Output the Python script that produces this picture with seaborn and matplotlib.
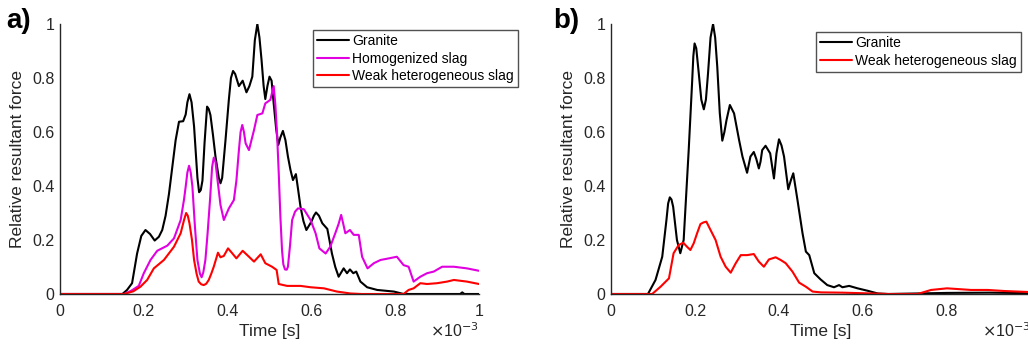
import numpy as np
import pandas as pd
import matplotlib
matplotlib.use("Agg")
import matplotlib.pyplot as plt
from matplotlib.ticker import FuncFormatter, FixedLocator
from matplotlib.lines import Line2D
import seaborn as sns

# ---------------- data (time in units of 1e-3 s) ----------------
a_granite_t = [0.0, 0.149, 0.160, 0.172, 0.184, 0.194, 0.204, 0.215, 0.226, 0.236, 0.244, 0.252, 0.260, 0.268,
               0.276, 0.284, 0.294, 0.300, 0.304, 0.309, 0.314, 0.320, 0.328, 0.332, 0.336, 0.340, 0.345,
               0.351, 0.355, 0.359, 0.365, 0.371, 0.379, 0.383, 0.387, 0.395, 0.403, 0.408, 0.413, 0.418,
               0.427, 0.436, 0.445, 0.452, 0.459, 0.465, 0.471, 0.476, 0.481, 0.486, 0.490, 0.495, 0.500,
               0.505, 0.510, 0.516, 0.521, 0.526, 0.532, 0.538, 0.544, 0.550, 0.556, 0.563, 0.568, 0.574,
               0.581, 0.588, 0.600, 0.606, 0.611, 0.618, 0.626, 0.638, 0.643, 0.649, 0.657, 0.665, 0.677,
               0.685, 0.692, 0.700, 0.707, 0.717, 0.733, 0.757, 0.797, 0.820, 0.900, 0.955, 0.960, 0.965, 1.0]
a_granite_v = [0.0, 0.0, 0.015, 0.04, 0.15, 0.215, 0.237, 0.222, 0.198, 0.212, 0.237, 0.29, 0.37, 0.47,
               0.57, 0.638, 0.64, 0.665, 0.71, 0.74, 0.71, 0.62, 0.43, 0.377, 0.385, 0.42, 0.56,
               0.694, 0.685, 0.663, 0.59, 0.51, 0.43, 0.41, 0.43, 0.57, 0.72, 0.80, 0.826, 0.815,
               0.77, 0.79, 0.747, 0.77, 0.805, 0.94, 1.0, 0.95, 0.867, 0.77, 0.722, 0.77, 0.805,
               0.79, 0.706, 0.61, 0.552, 0.58, 0.604, 0.57, 0.509, 0.46, 0.422, 0.444, 0.39, 0.323,
               0.27, 0.237, 0.268, 0.29, 0.302, 0.29, 0.262, 0.241, 0.20, 0.15, 0.10, 0.064, 0.095,
               0.077, 0.091, 0.077, 0.083, 0.046, 0.025, 0.015, 0.009, 0.0, 0.0, 0.0, 0.006, 0.0, 0.0]

a_homog_t = [0.0, 0.153, 0.170, 0.188, 0.200, 0.216, 0.232, 0.256, 0.272, 0.288, 0.296, 0.300, 0.304, 0.308,
             0.312, 0.316, 0.322, 0.328, 0.334, 0.338, 0.342, 0.347, 0.352, 0.358, 0.363, 0.367, 0.371,
             0.375, 0.383, 0.391, 0.403, 0.415, 0.421, 0.427, 0.431, 0.435, 0.439, 0.443, 0.451, 0.463,
             0.471, 0.483, 0.490, 0.502, 0.510, 0.514, 0.518, 0.522, 0.526, 0.530, 0.533, 0.537, 0.541,
             0.544, 0.549, 0.554, 0.561, 0.568, 0.582, 0.598, 0.610, 0.619, 0.634, 0.645, 0.657, 0.665,
             0.671, 0.676, 0.681, 0.692, 0.701, 0.713, 0.721, 0.734, 0.749, 0.765, 0.785, 0.804, 0.820,
             0.832, 0.844, 0.860, 0.876, 0.892, 0.912, 0.940, 0.971, 1.0]
a_homog_v = [0.0, 0.0, 0.012, 0.03, 0.077, 0.126, 0.16, 0.179, 0.206, 0.274, 0.35, 0.398, 0.45, 0.475,
             0.45, 0.398, 0.25, 0.126, 0.075, 0.062, 0.08, 0.126, 0.22, 0.348, 0.47, 0.505, 0.49,
             0.435, 0.33, 0.274, 0.317, 0.348, 0.42, 0.533, 0.60, 0.626, 0.60, 0.558, 0.533, 0.607,
             0.663, 0.669, 0.706, 0.719, 0.77, 0.70, 0.595, 0.45, 0.286, 0.16, 0.11, 0.091, 0.09,
             0.101, 0.18, 0.274, 0.305, 0.317, 0.314, 0.274, 0.225, 0.169, 0.15, 0.175, 0.225, 0.26,
             0.293, 0.26, 0.225, 0.237, 0.219, 0.219, 0.138, 0.095, 0.114, 0.126, 0.132, 0.138, 0.107,
             0.101, 0.046, 0.064, 0.077, 0.083, 0.101, 0.101, 0.095, 0.086]

a_weak_t = [0.0, 0.153, 0.175, 0.192, 0.208, 0.224, 0.248, 0.272, 0.288, 0.296, 0.301, 0.305, 0.309, 0.315,
            0.320, 0.326, 0.331, 0.337, 0.343, 0.349, 0.355, 0.361, 0.367, 0.377, 0.383, 0.391, 0.401,
            0.411, 0.421, 0.436, 0.451, 0.463, 0.479, 0.490, 0.506, 0.517, 0.522, 0.542, 0.574, 0.598,
            0.630, 0.661, 0.693, 0.720, 0.820, 0.832, 0.844, 0.860, 0.876, 0.900, 0.924, 0.940, 0.971,
            1.0]
a_weak_v = [0.0, 0.0, 0.01, 0.027, 0.052, 0.095, 0.126, 0.175, 0.225, 0.274, 0.30, 0.29, 0.262, 0.20,
            0.126, 0.075, 0.046, 0.036, 0.033, 0.038, 0.052, 0.075, 0.101, 0.153, 0.136, 0.141, 0.169,
            0.151, 0.132, 0.16, 0.138, 0.12, 0.147, 0.114, 0.101, 0.089, 0.037, 0.03, 0.03, 0.025,
            0.021, 0.009, 0.002, 0.0, 0.0, 0.015, 0.021, 0.04, 0.037, 0.04, 0.046, 0.052, 0.046,
            0.037]

b_granite_t = [0.0, 0.088, 0.106, 0.122, 0.132, 0.136, 0.140, 0.144, 0.148, 0.157, 0.165, 0.173, 0.185, 0.193,
               0.196, 0.199, 0.203, 0.209, 0.215, 0.221, 0.226, 0.231, 0.237, 0.243, 0.248, 0.253, 0.259,
               0.265, 0.270, 0.275, 0.283, 0.293, 0.305, 0.313, 0.324, 0.332, 0.340, 0.346, 0.352, 0.356,
               0.360, 0.368, 0.379, 0.388, 0.394, 0.400, 0.406, 0.412, 0.422, 0.428, 0.434, 0.444, 0.456,
               0.464, 0.472, 0.484, 0.499, 0.515, 0.531, 0.543, 0.551, 0.567, 0.587, 0.611, 0.635, 0.660,
               0.800, 0.900, 1.0]
b_granite_v = [0.0, 0.0, 0.052, 0.138, 0.274, 0.335, 0.358, 0.35, 0.323, 0.2, 0.151, 0.2, 0.533, 0.78,
               0.88, 0.928, 0.91, 0.817, 0.72, 0.684, 0.72, 0.817, 0.95, 1.0, 0.95, 0.842, 0.67,
               0.568, 0.60, 0.644, 0.7, 0.669, 0.57, 0.509, 0.449, 0.509, 0.526, 0.50, 0.465, 0.49,
               0.533, 0.549, 0.521, 0.428, 0.521, 0.573, 0.55, 0.509, 0.388, 0.42, 0.447, 0.348, 0.225,
               0.157, 0.144, 0.077, 0.054, 0.033, 0.025, 0.033, 0.025, 0.03, 0.021, 0.012, 0.002, 0.0,
               0.004, 0.005, 0.003]

b_weak_t = [0.0, 0.098, 0.118, 0.138, 0.149, 0.161, 0.172, 0.181, 0.189, 0.197, 0.205, 0.213, 0.220, 0.227,
            0.237, 0.249, 0.261, 0.273, 0.285, 0.297, 0.309, 0.324, 0.340, 0.352, 0.364, 0.376, 0.392,
            0.404, 0.416, 0.432, 0.448, 0.464, 0.480, 0.500, 0.550, 0.620, 0.660, 0.730, 0.762, 0.800,
            0.857, 0.897, 0.937, 1.0]
b_weak_v = [0.0, 0.0, 0.027, 0.058, 0.151, 0.181, 0.19, 0.175, 0.163, 0.188, 0.225, 0.259, 0.265, 0.268,
            0.237, 0.2, 0.138, 0.101, 0.079, 0.114, 0.144, 0.144, 0.148, 0.12, 0.101, 0.128, 0.136,
            0.126, 0.114, 0.083, 0.042, 0.027, 0.009, 0.006, 0.005, 0.002, 0.0, 0.0, 0.015, 0.021,
            0.015, 0.015, 0.011, 0.007]

labels_a = ["Granite", "Homogenized slag", "Weak heterogeneous slag"]
labels_b = ["Granite", "Weak heterogeneous slag"]
x_ticks = [0, 0.2, 0.4, 0.6, 0.8, 1.0]
y_ticks = [0, 0.2, 0.4, 0.6, 0.8, 1.0]

colors = {"Granite": "#000000", "Homogenized slag": "#E000E0", "Weak heterogeneous slag": "#FF0000"}

df_a = pd.concat([
    pd.DataFrame({"t": a_granite_t, "v": a_granite_v, "series": labels_a[0]}),
    pd.DataFrame({"t": a_homog_t, "v": a_homog_v, "series": labels_a[1]}),
    pd.DataFrame({"t": a_weak_t, "v": a_weak_v, "series": labels_a[2]}),
], ignore_index=True)
df_b = pd.concat([
    pd.DataFrame({"t": b_granite_t, "v": b_granite_v, "series": labels_b[0]}),
    pd.DataFrame({"t": b_weak_t, "v": b_weak_v, "series": labels_b[1]}),
], ignore_index=True)

# ---------------- style ----------------
sns.set_style("white")
plt.rcParams["font.family"] = ["Liberation Sans", "DejaVu Sans"]
axcol = "#262626"

W, H = 1028, 344
fig = plt.figure(figsize=(W / 100, H / 100), dpi=100)
ax_a = fig.add_axes([60 / W, 1 - 294 / H, 419 / W, 270 / H])
ax_b = fig.add_axes([611 / W, 1 - 294 / H, 420 / W, 270 / H])

fmt = FuncFormatter(lambda v, p: f"{v:g}")

def style(ax, df, labels, leg_bbox, panel):
    sns.lineplot(data=df, x="t", y="v", hue="series", hue_order=labels,
                 palette=colors, linewidth=1.5, ax=ax, legend=False,
                 estimator=None, sort=False)
    for ln in ax.get_lines():
        ln.set_solid_joinstyle("round")
    ax.set_xlim(0, 1)
    ax.set_ylim(0, 1)
    ax.xaxis.set_major_locator(FixedLocator(x_ticks))
    ax.yaxis.set_major_locator(FixedLocator(y_ticks))
    ax.xaxis.set_major_formatter(fmt)
    ax.yaxis.set_major_formatter(fmt)
    for s in ["top", "right"]:
        ax.spines[s].set_visible(False)
    for s in ["left", "bottom"]:
        ax.spines[s].set_color(axcol)
        ax.spines[s].set_linewidth(1.0)
    ax.tick_params(axis="both", direction="in", length=4, width=1.0, colors=axcol,
                   labelsize=11.5, labelcolor=axcol)
    ax.tick_params(axis="x", pad=7)
    ax.tick_params(axis="y", pad=4)
    ax.set_xlabel("Time [s]", fontsize=12.5, color=axcol, labelpad=4)
    ax.set_ylabel("Relative resultant force", fontsize=12.5, color=axcol, labelpad=5)
    ax.text(1.0, -0.135, r"$\times$10$^{-3}$", transform=ax.transAxes, ha="right", va="center",
            fontsize=11.5, color=axcol)
    handles = [Line2D([], [], color=colors[l], linewidth=1.5) for l in labels]
    leg = ax.legend(handles, labels, loc="upper right", bbox_to_anchor=leg_bbox,
                    bbox_transform=fig.transFigure, frameon=True, fancybox=False,
                    edgecolor=axcol, fontsize=10, handlelength=2.3, handletextpad=0.2,
                    borderpad=0.3, labelspacing=0.25, borderaxespad=0)
    leg.get_frame().set_linewidth(1.0)
    for t in leg.get_texts():
        t.set_color("#000000")
    ax.text(panel[1], panel[2], panel[0], transform=fig.transFigure, fontsize=20,
            fontweight="bold", ha="left", va="center", color="#000000")

style(ax_a, df_a, labels_a, (518 / W, 1 - 30 / H), ("a)", 6 / W, 1 - 21 / H))
style(ax_b, df_b, labels_b, (1021 / W, 1 - 32 / H), ("b)", 553 / W, 1 - 21 / H))

fig.savefig("out.png", dpi=100)
